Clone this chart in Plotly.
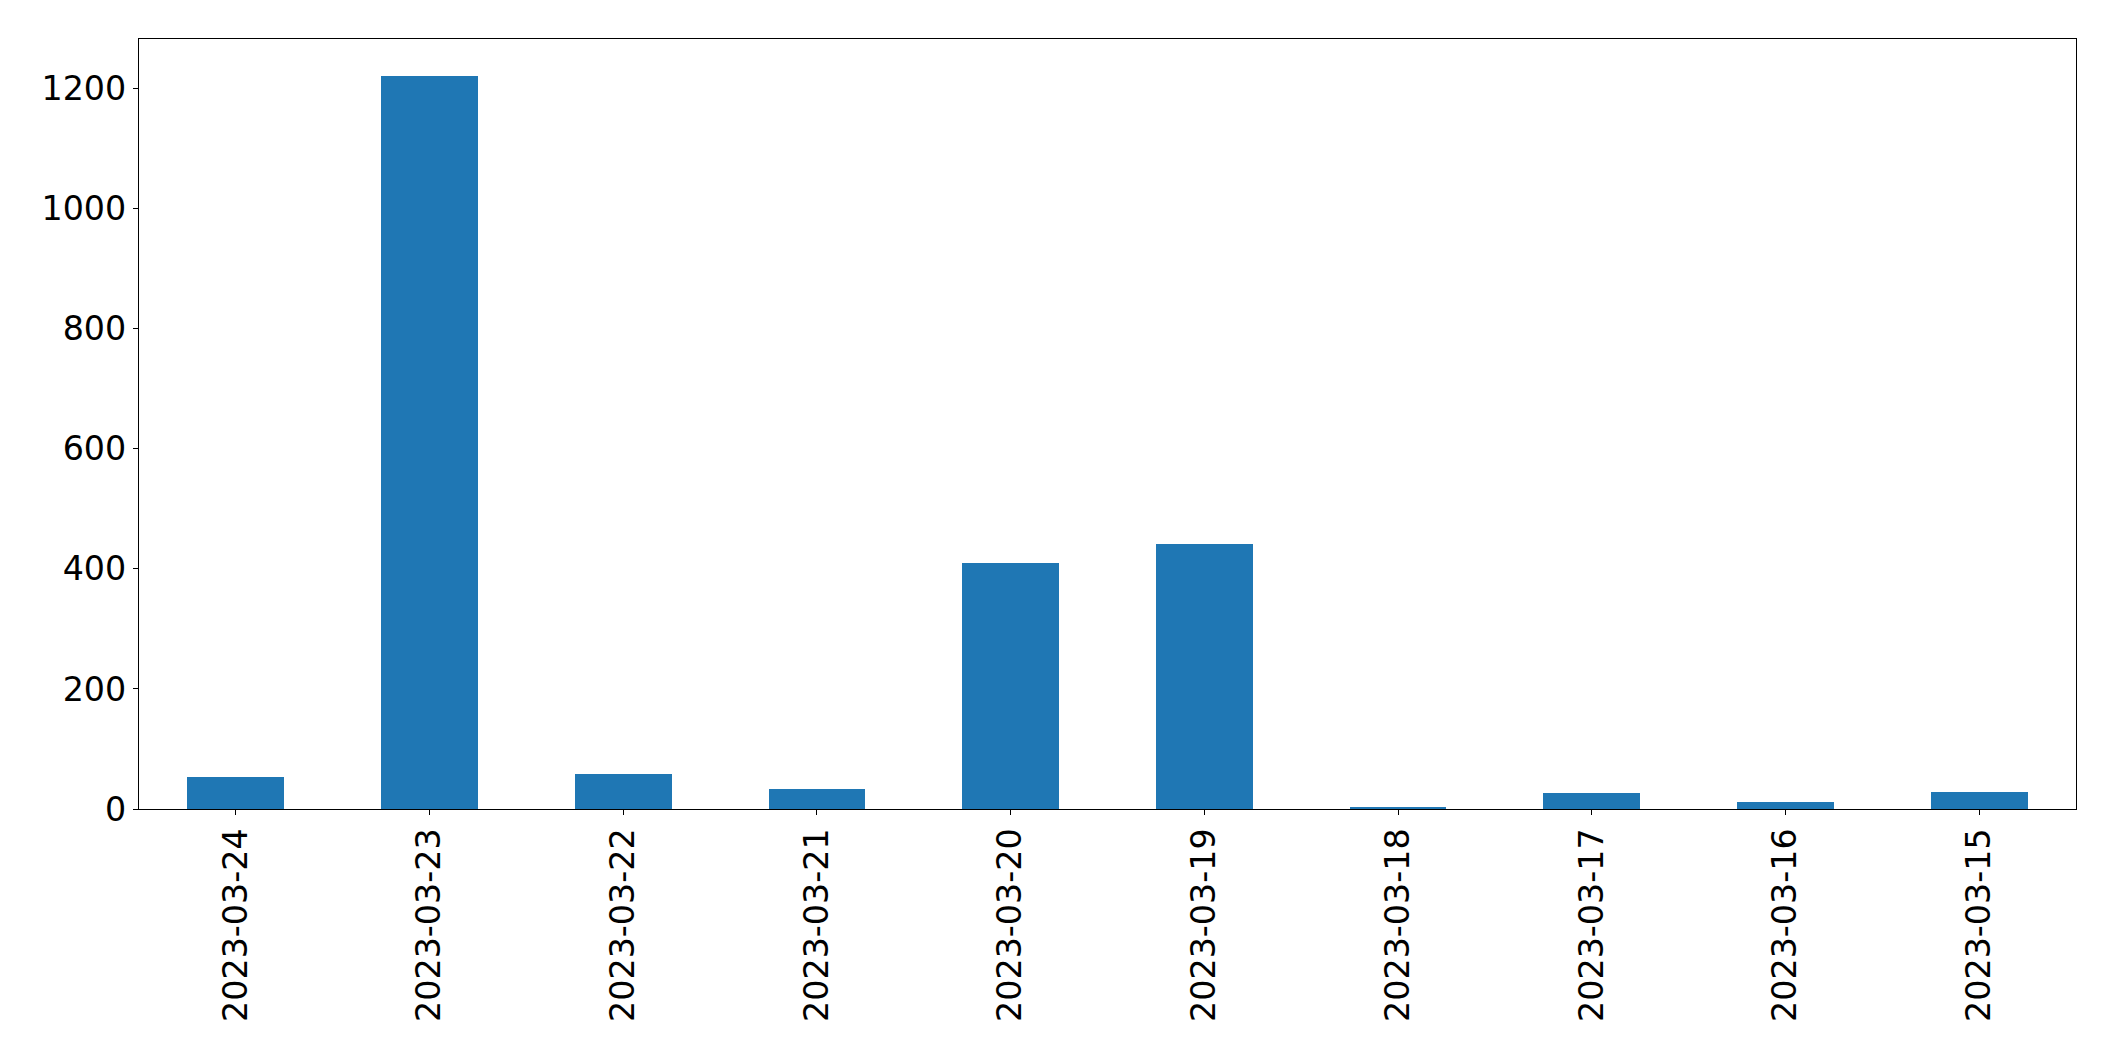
import plotly.graph_objects as go

dates = ["2023-03-24", "2023-03-23", "2023-03-22", "2023-03-21", "2023-03-20",
         "2023-03-19", "2023-03-18", "2023-03-17", "2023-03-16", "2023-03-15"]
counts = [54, 1221, 58, 34, 410, 442, 4, 27, 12, 28]
y_ticks = [0, 200, 400, 600, 800, 1000, 1200]

fig = go.Figure(go.Bar(x=dates, y=counts, width=0.5, marker=dict(color="#1f77b4", line=dict(width=0))))

font = dict(family="DejaVu Sans", size=33.3, color="black")
fig.update_layout(
    width=2107, height=1053,
    margin=dict(l=131, r=39, t=31, b=252, pad=0),
    plot_bgcolor="white", paper_bgcolor="white",
    showlegend=False, bargap=0,
    font=font,
)
fig.update_xaxes(
    type="category", range=[-0.5, 9.5], tickangle=-90,
    showline=True, linecolor="black", linewidth=1.2, mirror=True,
    ticks="outside", ticklen=5, tickwidth=1.2, tickcolor="black",
    showgrid=False, zeroline=False, tickfont=font, ticklabelstandoff=0,
)
fig.update_yaxes(
    range=[0, 1282], tickvals=y_ticks, ticktext=[str(v) for v in y_ticks],
    showline=True, linecolor="black", linewidth=1.2, mirror=True,
    ticks="outside", ticklen=5, tickwidth=1.2, tickcolor="black",
    showgrid=False, zeroline=False, tickfont=font, ticklabelstandoff=0,
)
fig.write_html("out.html")
